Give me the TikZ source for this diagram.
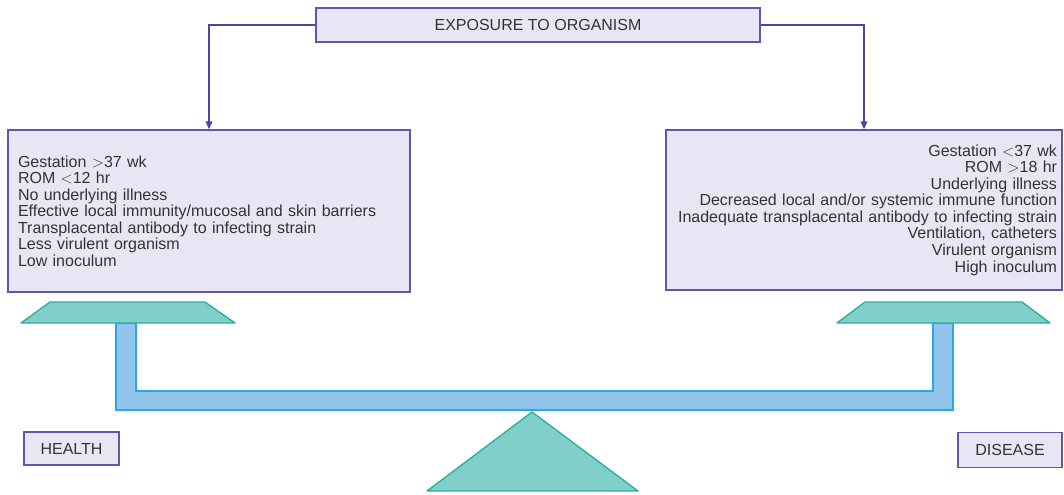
\documentclass[tikz,border=0pt]{standalone}
\usepackage{fontspec}
\setmainfont{Liberation Sans}
\usetikzlibrary{arrows.meta}
\definecolor{boxfill}{HTML}{E8E6F4}
\definecolor{boxline}{HTML}{5B5AA8}
\definecolor{arrowc}{HTML}{4848A0}
\definecolor{tealfill}{HTML}{80CFC9}
\definecolor{tealline}{HTML}{2AAE9F}
\definecolor{beamfill}{HTML}{93C4EC}
\definecolor{beamline}{HTML}{2AA9E0}
\definecolor{txtc}{HTML}{333333}
\begin{document}
\begin{tikzpicture}[x=0.75pt,y=-0.75pt,
  infobox/.style={draw=boxline, fill=boxfill, line width=1pt, text=txtc,
    font=\fontsize{12}{12.4}\selectfont, inner sep=0pt},
  conn/.style={draw=arrowc, line width=1pt, -{Triangle[length=6pt,width=5pt]}},
  tealpart/.style={fill=tealfill, draw=tealline, line width=1pt, line join=round},
  beampart/.style={fill=beamfill, draw=beamline, line width=1pt}]
\useasboundingbox (0,0) rectangle (1064,494);
% balance beam
\draw[beampart] (116,323) -- (116,410) -- (953,410) -- (953,323) -- (933,323)
  -- (933,391) -- (136,391) -- (136,323) -- cycle;
% pans
\draw[tealpart] (50,302) -- (205,302) -- (235,323) -- (21,323) -- cycle;
\draw[tealpart] (865,302) -- (1022,302) -- (1050,323) -- (837,323) -- cycle;
% fulcrum
\draw[tealpart] (532,412) -- (638,491) -- (427,491) -- cycle;
% boxes
\node[infobox, minimum width=333pt, minimum height=25.5pt] (top) at (538,25)
  {EXPOSURE TO ORGANISM};
\node[infobox, minimum width=301.5pt, minimum height=121.5pt,
  text width=286.5pt, align=left] (left) at (209,211)
  {Gestation $>$37 wk\\
   ROM $<$12 hr\\
   No underlying illness\\
   Effective local immunity/mucosal and skin barriers\\
   Transplacental antibody to infecting strain\\
   Less virulent organism\\
   Low inoculum};
\node[infobox, minimum width=297pt, minimum height=120pt,
  text width=289.5pt, align=right] (right) at (864,210)
  {Gestation $<$37 wk\\
   ROM $>$18 hr\\
   Underlying illness\\
   Decreased local and/or systemic immune function\\
   Inadequate transplacental antibody to infecting strain\\
   Ventilation, catheters\\
   Virulent organism\\
   High inoculum};
\node[infobox, minimum width=71.25pt, minimum height=24.75pt] (health) at (71.5,448.5) {HEALTH};
\node[infobox, minimum width=78pt, minimum height=26.25pt] (disease) at (1010,450) {DISEASE};
% connectors
\draw[conn] (top.west) -| (left.north);
\draw[conn] (top.east) -| (right.north);
\end{tikzpicture}
\end{document}
